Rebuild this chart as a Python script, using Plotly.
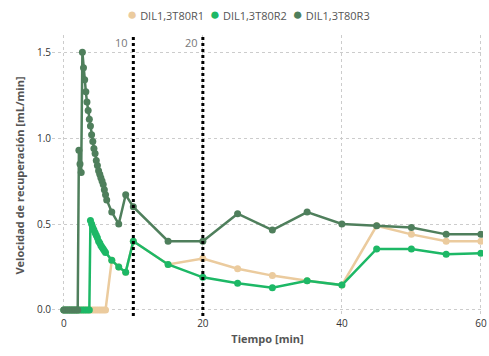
import plotly.graph_objects as go

# Data
t_r1 = [0, 0.33, 0.67, 1.0, 1.33, 1.67, 2.0, 2.33, 2.67, 3.0, 3.33, 3.67, 4.0, 4.33, 4.67, 5.0, 5.33, 5.67, 6.0,
        6.9, 7.9, 8.9, 10, 15, 20, 25, 30, 35, 40, 45, 50, 55, 60]
v_r1 = [0]*19 + [0.29, 0.25, 0.22, 0.40, 0.265, 0.30, 0.24, 0.20, 0.17, 0.145, 0.49, 0.44, 0.40, 0.40]

t_r2 = [0, 0.33, 0.67, 1.0, 1.33, 1.67, 2.0, 2.33, 2.67, 3.0, 3.33, 3.67,
        3.83, 4.0, 4.17, 4.33, 4.5, 4.67, 4.83, 5.0, 5.17, 5.33, 5.5, 5.67, 5.83, 6.0,
        6.9, 7.9, 8.9, 10, 15, 20, 25, 30, 35, 40, 45, 50, 55, 60]
v_r2 = [0]*12 + [0.52, 0.50, 0.48, 0.465, 0.45, 0.435, 0.42, 0.40, 0.39, 0.375, 0.365, 0.355, 0.345, 0.335,
                 0.29, 0.25, 0.22, 0.40, 0.265, 0.19, 0.155, 0.13, 0.17, 0.145, 0.355, 0.355, 0.325, 0.33]

t_r3 = [0, 0.33, 0.67, 1.0, 1.33, 1.67, 2.0,
        2.17, 2.33, 2.5, 2.67, 2.83, 3.0, 3.17, 3.33, 3.5, 3.67, 3.83, 4.0, 4.17, 4.33, 4.5, 4.67, 4.83,
        5.0, 5.17, 5.33, 5.5, 5.67, 5.83, 6.0, 6.17,
        6.9, 7.9, 8.9, 10, 15, 20, 25, 30, 35, 40, 45, 50, 55, 60]
v_r3 = [0]*7 + [0.93, 0.85, 0.80, 1.50, 1.41, 1.34, 1.27, 1.21, 1.16, 1.11, 1.07, 1.02, 0.98, 0.94, 0.91, 0.87,
                0.84, 0.81, 0.79, 0.77, 0.75, 0.73, 0.70, 0.67, 0.64,
                0.57, 0.50, 0.67, 0.60, 0.40, 0.40, 0.56, 0.465, 0.57, 0.50, 0.49, 0.48, 0.44, 0.44]

names = ["DIL1,3T80R1", "DIL1,3T80R2", "DIL1,3T80R3"]
colors = ["#EBCB9E", "#1DB866", "#4F7F5C"]
marks = [10, 20]

fig = go.Figure()
for t, v, n, c in zip([t_r1, t_r2, t_r3], [v_r1, v_r2, v_r3], names, colors):
    fig.add_trace(go.Scatter(x=t, y=v, name=n, mode="lines+markers", showlegend=False,
                             line=dict(color=c, width=2.5),
                             marker=dict(color=c, size=7)))

# compact legend row: coloured dots followed by series names
legend_html = "&nbsp;&nbsp;".join(
    f"<span style='color:{c};font-size:17px'>●</span>&nbsp;{n}" for n, c in zip(names, colors)
)
fig.add_annotation(x=0.455, y=1.075, xref="paper", yref="paper", text=legend_html,
                   showarrow=False, xanchor="center", yanchor="middle",
                   font=dict(size=11, color="#555", family="Open Sans"))

for m in marks:
    fig.add_shape(type="line", x0=m, x1=m, y0=0, y1=1, yref="paper", xref="x",
                  line=dict(color="black", width=3, dash="dot"))
    fig.add_annotation(x=m, y=1.5, yref="y", xref="x", text=str(m), showarrow=False,
                       xanchor="right", yanchor="bottom", xshift=-3, yshift=0,
                       font=dict(size=11, color="#777", family="Open Sans"))

grid = dict(showgrid=True, gridcolor="#CCCCCC", griddash="dot", gridwidth=1, zeroline=False,
            ticks="", showline=False, automargin=False)
fig.update_layout(
    width=489, height=356,
    margin=dict(l=52, r=6, t=35, b=40),
    paper_bgcolor="white", plot_bgcolor="white",
    font=dict(family="Open Sans", color="#555"),
    showlegend=False,
    xaxis=dict(range=[-1.7, 60.3], tickvals=[0, 20, 40, 60],
               tickfont=dict(size=10, color="#333", family="Open Sans"),
               title=dict(text="<b>Tiempo [min]</b>", font=dict(size=11, color="#555"), standoff=6),
               **grid),
    yaxis=dict(range=[-0.035, 1.6], tickvals=[0, 0.5, 1.0, 1.5], tickformat=".1f",
               tickfont=dict(size=10, color="#333", family="Open Sans"),
               title=dict(text="<b>Velocidad de recuperación [mL/min]</b>", font=dict(size=11, color="#555"), standoff=10),
               **grid),
)

fig.write_html("out.html")
